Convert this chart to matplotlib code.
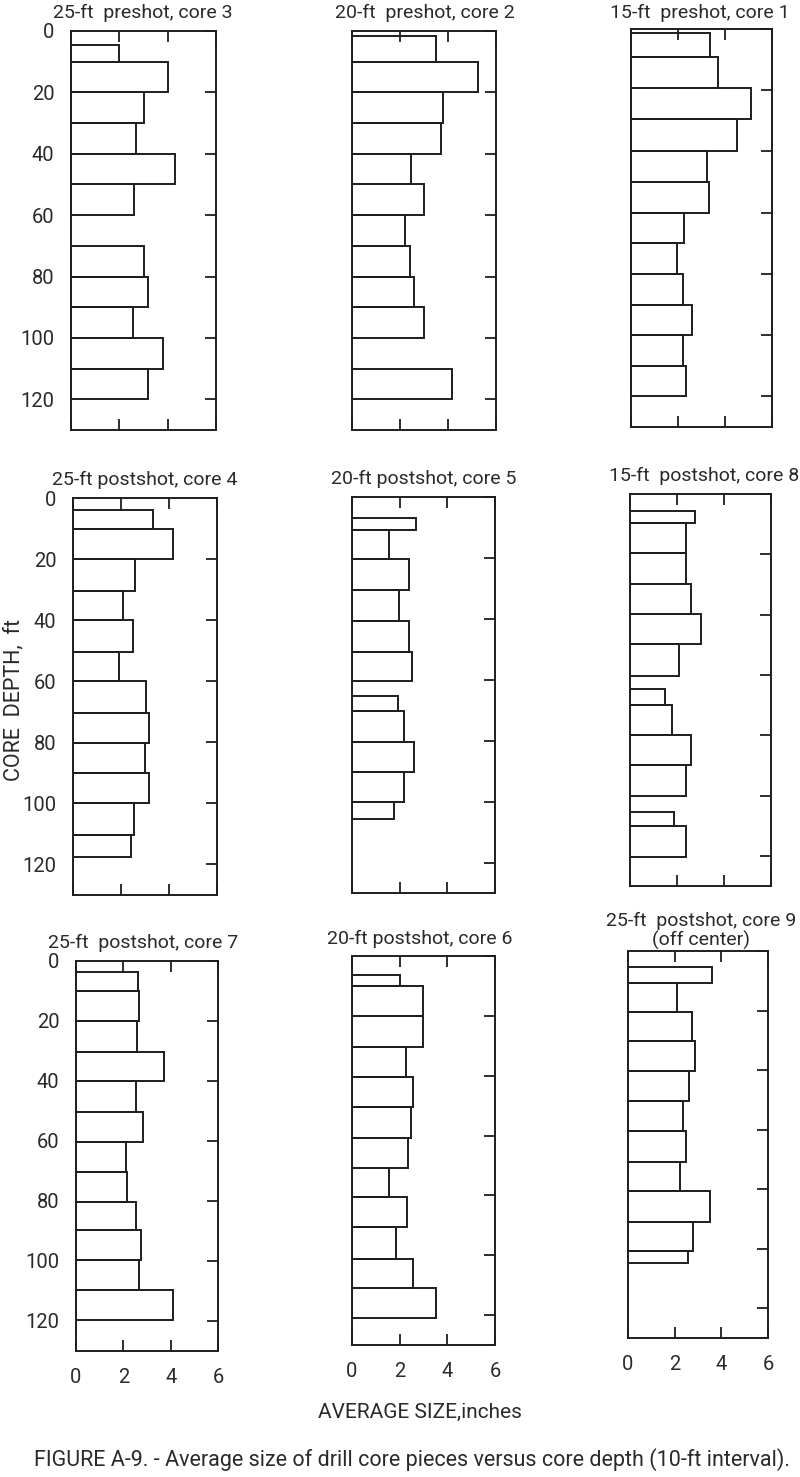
import matplotlib
matplotlib.use("Agg")
import matplotlib.pyplot as plt

plt.rcParams['font.family'] = ['Roboto', 'DejaVu Sans']

W, H = 800, 1477
LINE = '#1e1e1e'
TXT = '#2a2a2a'

# ---- data: depth interval tops / bottoms (ft) and average size (inches) ----
core3_top = [4.5, 10, 20, 30, 40, 50, 70, 80, 90, 100, 110]
core3_bot = [10, 20, 30, 40, 50, 60, 80, 90, 100, 110, 120]
core3_size = [2.0, 4.0, 3.0, 2.7, 4.3, 2.6, 3.0, 3.2, 2.55, 3.8, 3.2]

core2_top = [1.7, 10, 20, 30, 40, 50, 60, 70, 80, 90, 110]
core2_bot = [10, 20, 30, 40, 50, 60, 70, 80, 90, 100, 120]
core2_size = [3.5, 5.25, 3.8, 3.7, 2.45, 3.0, 2.2, 2.4, 2.6, 3.0, 4.15]

core1_top = [1.3, 9.3, 19.3, 29.4, 40, 50, 60, 70, 80, 90, 100, 110]
core1_bot = [9.3, 19.3, 29.4, 40, 50, 60, 70, 80, 90, 100, 110, 120]
core1_size = [3.35, 3.7, 5.1, 4.5, 3.25, 3.3, 2.25, 1.95, 2.2, 2.6, 2.2, 2.35]

core4_top = [3.8, 10.2, 20, 30.4, 40, 50.3, 60, 70.3, 80.3, 90.2, 100, 110.2]
core4_bot = [10.2, 20, 30.4, 40, 50.3, 60, 70.3, 80.3, 90.2, 100, 110.2, 117.6]
core4_size = [3.35, 4.15, 2.6, 2.1, 2.5, 1.9, 3.05, 3.15, 3.0, 3.15, 2.55, 2.4]

core5_top = [6.8, 10.7, 20.5, 30.6, 40.6, 51, 65.4, 70.3, 80.4, 90.3, 100.2]
core5_bot = [10.7, 20.5, 30.6, 40.6, 51, 60.4, 70.3, 80.4, 90.3, 100.2, 105.7]
core5_size = [2.7, 1.55, 2.4, 1.97, 2.4, 2.5, 1.95, 2.2, 2.6, 2.2, 1.76]

core8_top = [5.6, 9.5, 19.7, 29.9, 39.8, 49.7, 64.6, 69.9, 80, 90, 105.4, 110]
core8_bot = [9.5, 19.7, 29.9, 39.8, 49.7, 60.2, 69.9, 80, 90, 100.2, 110, 120.3]
core8_size = [2.75, 2.4, 2.4, 2.6, 3.0, 2.1, 1.48, 1.79, 2.58, 2.4, 1.86, 2.4]

core7_top = [3.8, 9.9, 20, 30.4, 40.1, 50.2, 60.4, 70.3, 80.2, 89.8, 99.7, 109.6]
core7_bot = [9.9, 20, 30.4, 40.1, 50.2, 60.4, 70.3, 80.2, 89.8, 99.7, 109.6, 119.8]
core7_size = [2.64, 2.68, 2.58, 3.72, 2.54, 2.82, 2.12, 2.15, 2.54, 2.75, 2.68, 4.1]

core6_top = [6.2, 10.1, 20.2, 30.3, 40.4, 50.6, 60.7, 70.8, 80.6, 90.7, 101.1, 110.9]
core6_bot = [10.1, 20.2, 30.3, 40.4, 50.6, 60.7, 70.8, 80.6, 90.7, 101.1, 110.9, 121]
core6_size = [2.03, 2.96, 2.96, 2.26, 2.57, 2.47, 2.33, 1.54, 2.3, 1.85, 2.54, 3.51]

core9_top = [5.4, 10.7, 20.5, 30.3, 40.4, 50.5, 60.6, 70.8, 80.6, 91, 100.8]
core9_bot = [10.7, 20.5, 30.3, 40.4, 50.5, 60.6, 70.8, 80.6, 91, 100.8, 104.7]
core9_size = [3.6, 2.1, 2.76, 2.89, 2.61, 2.36, 2.47, 2.24, 3.5, 2.79, 2.57]

titles = ["25-ft  preshot, core 3", "20-ft  preshot, core 2", "15-ft  preshot, core 1",
          "25-ft postshot, core 4", "20-ft postshot, core 5", "15-ft  postshot, core 8",
          "25-ft  postshot, core 7", "20-ft postshot, core 6",
          "25-ft  postshot, core 9\n(off center)"]

depth_ticks = [0, 20, 40, 60, 80, 100, 120]
size_ticks = [0, 2, 4, 6]

panels = [
    (core3_top, core3_bot, core3_size),
    (core2_top, core2_bot, core2_size),
    (core1_top, core1_bot, core1_size),
    (core4_top, core4_bot, core4_size),
    (core5_top, core5_bot, core5_size),
    (core8_top, core8_bot, core8_size),
    (core7_top, core7_bot, core7_size),
    (core6_top, core6_bot, core6_size),
    (core9_top, core9_bot, core9_size),
]

# layout in pixels: left, top, right, bottom
boxes = [
    (71, 31, 216, 430), (352, 31, 496, 430), (631, 29, 772, 427),
    (73, 498, 217, 895), (352, 497, 495, 893), (630, 494, 771, 886),
    (76, 961, 218, 1351), (352, 956, 495, 1345), (628, 951, 768, 1338),
]
title_pos = [(143, 13), (425, 13), (700, 13),
             (145, 480), (424, 479), (704, 476),
             (143, 943), (420, 939), (701, 931)]

fig = plt.figure(figsize=(W / 100, H / 100), dpi=100)
fig.patch.set_facecolor('white')

for i, ((tops, bots, sizes), (l, t, r, b)) in enumerate(zip(panels, boxes)):
    ax = fig.add_axes([l / W, 1 - b / H, (r - l) / W, (b - t) / H])
    heights = [bb - tt for tt, bb in zip(tops, bots)]
    ax.barh(tops, sizes, height=heights, left=0, align='edge',
            fill=False, edgecolor=LINE, linewidth=1.4)
    ax.set_xlim(0, 6)
    ax.set_ylim(130, 0)
    ax.set_xticks(size_ticks)
    ax.set_yticks(depth_ticks)
    for s in ax.spines.values():
        s.set_color(LINE)
        s.set_linewidth(1.4)
    col = i % 3
    row = i // 3
    ax.tick_params(axis='x', which='both', direction='in', top=True, bottom=True,
                   length=8, width=1.3, color=LINE,
                   labelbottom=(row == 2), labeltop=False,
                   labelsize=14.5, pad=12, labelcolor=TXT)
    ax.tick_params(axis='y', which='both', direction='in', left=False, right=True,
                   length=8, width=1.3, color=LINE,
                   labelleft=(col == 0), labelright=False,
                   labelsize=14.5, pad=12, labelcolor=TXT)
    tx, ty = title_pos[i]
    fig.text(tx / W, 1 - ty / H, titles[i], ha='center', va='center',
             fontsize=14, color=TXT, linespacing=1.0)

fig.text(14 / W, 1 - 700 / H, "CORE  DEPTH,  ft", rotation=90, ha='center',
         va='center', fontsize=15.5, color=TXT)
fig.text(420 / W, 1 - 1412 / H, "AVERAGE SIZE,inches", ha='center', va='center',
         fontsize=15, color=TXT)
fig.text(412 / W, 1 - 1460 / H,
         "FIGURE A-9. - Average size of drill core pieces versus core depth (10-ft interval).",
         ha='center', va='center', fontsize=15.5, color=TXT)

fig.savefig("out.png", dpi=100, facecolor='white')
